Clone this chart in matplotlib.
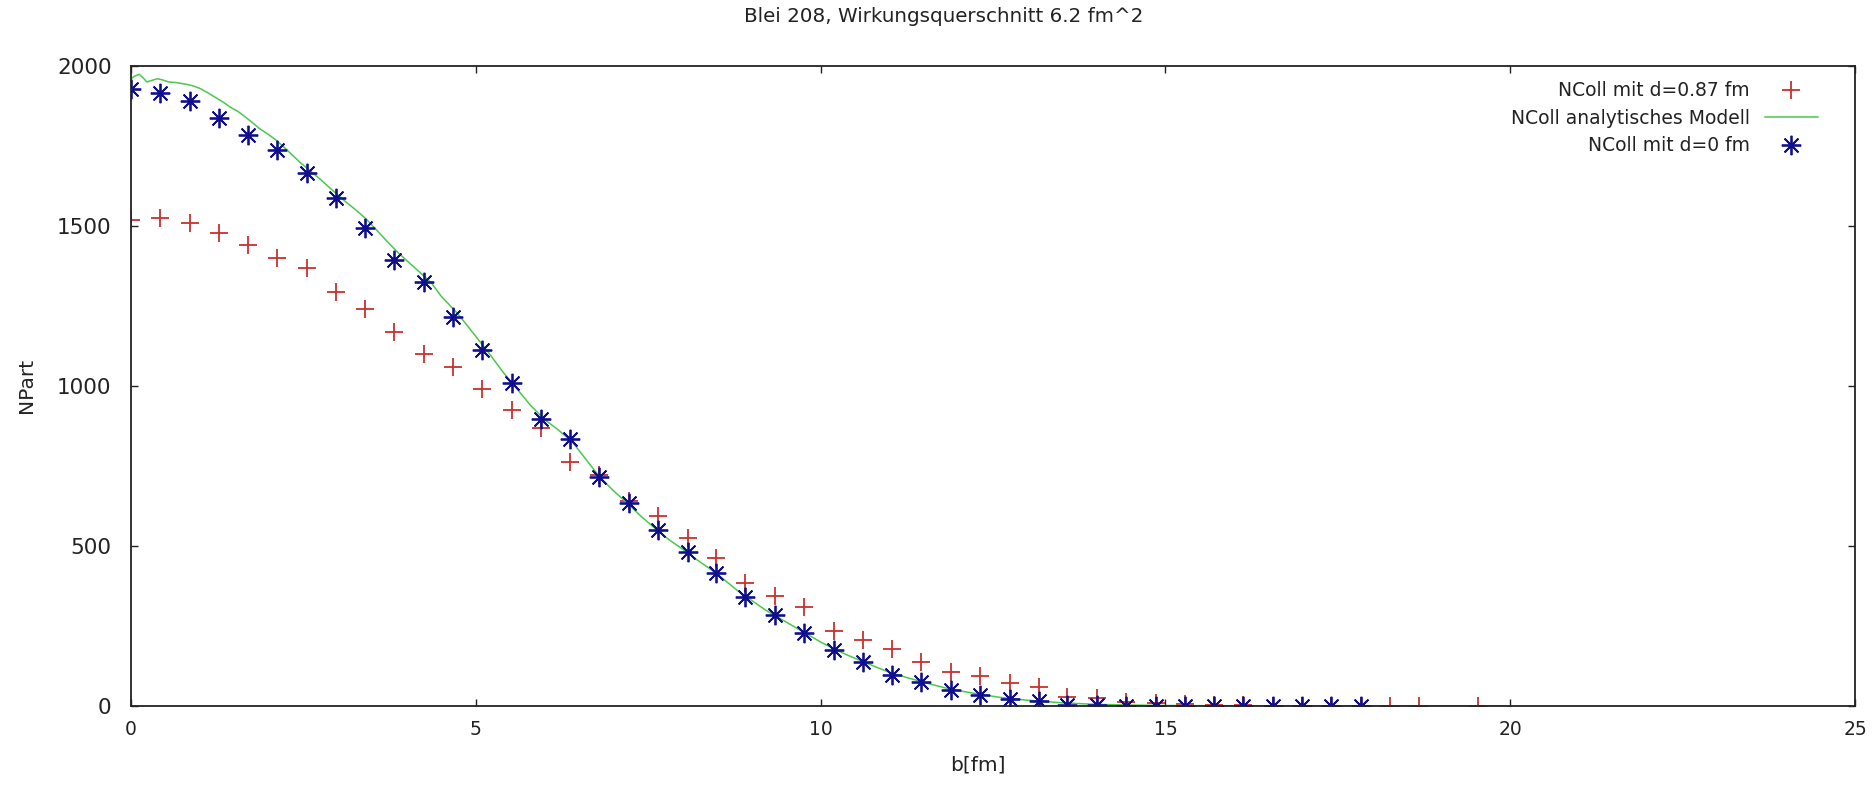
import matplotlib
matplotlib.use("Agg")
import matplotlib.pyplot as plt

# impact parameter grid of the simulation (fm)
b_sim = [0.00, 0.42, 0.85, 1.27, 1.70, 2.12, 2.55, 2.97, 3.40, 3.82,
         4.25, 4.67, 5.09, 5.52, 5.94, 6.37, 6.79, 7.22, 7.64, 8.07,
         8.49, 8.91, 9.34, 9.76, 10.19, 10.61, 11.04, 11.46, 11.89, 12.31,
         12.74, 13.16, 13.58, 14.01, 14.43, 14.86, 15.28, 15.71, 16.13, 16.56,
         16.98, 17.40, 17.83, 18.25, 18.68, 19.53]

# NColl mit d=0.87 fm
ncoll_d087 = [1519, 1524, 1510, 1477, 1441, 1399, 1368, 1293, 1240, 1168,
              1100, 1059, 991, 924, 868, 761, 722, 640, 594, 524,
              464, 385, 344, 308, 234, 206, 177, 138, 107, 94,
              71, 58, 29, 26, 14, 8, 5, 3, 2, 1,
              1, 0, 0, 0, 0, 0]

# NColl mit d=0 fm (only up to b=17.83)
ncoll_d0 = [1928, 1915, 1891, 1838, 1784, 1737, 1667, 1588, 1495, 1394,
            1326, 1215, 1112, 1010, 898, 833, 717, 633, 550, 482,
            417, 342, 284, 229, 175, 138, 97, 76, 50, 33,
            21, 15, 4, 2, 1, 1, 0, 0, 0, 0,
            0, 0, 0]

# analytisches Modell
b_model = [0.00, 0.05, 0.12, 0.18, 0.23, 0.30, 0.38, 0.45, 0.55, 0.66,
           0.80, 0.90, 1.00, 1.10, 1.20, 1.33, 1.45, 1.55, 1.62, 1.75,
           1.86, 2.00, 2.10, 2.25, 2.44, 2.60, 2.75, 2.92, 3.10, 3.25,
           3.40, 3.55, 3.70, 3.88, 4.05, 4.20, 4.36, 4.50, 4.70, 4.85,
           5.00, 5.20, 5.40, 5.60, 5.80, 6.00, 6.20, 6.40, 6.60, 6.80,
           7.00, 7.20, 7.40, 7.60, 7.80, 8.00, 8.20, 8.40, 8.60, 8.80,
           9.00, 9.20, 9.40, 9.60, 9.80, 10.00, 10.20, 10.40, 10.60, 10.80,
           11.00, 11.20, 11.40, 11.60, 11.80, 12.00, 12.30, 12.60, 13.00, 13.50,
           14.00, 14.50, 15.00, 16.00, 17.00, 20.00]
n_model = [1960, 1968, 1974, 1962, 1950, 1955, 1960, 1957, 1950, 1948,
           1943, 1938, 1930, 1918, 1905, 1888, 1870, 1858, 1847, 1825,
           1805, 1785, 1769, 1740, 1701, 1672, 1645, 1612, 1578, 1552,
           1524, 1490, 1455, 1415, 1382, 1353, 1321, 1280, 1235, 1196,
           1155, 1100, 1042, 990, 938, 895, 862, 825, 770, 715,
           672, 633, 592, 555, 520, 490, 458, 428, 395, 360,
           330, 300, 275, 250, 225, 200, 178, 158, 140, 122,
           105, 92, 80, 68, 57, 48, 37, 27, 18, 10,
           5, 3, 1.5, 0.5, 0, 0]

plt.rcParams['font.family'] = ['DejaVu Sans']

fig = plt.figure(figsize=(18.75, 7.98), dpi=100)
ax = fig.add_axes([131 / 1875, 1 - 706 / 798, 1724 / 1875, 640 / 798])

ax.plot(b_sim, ncoll_d087, linestyle='none', marker='+', markersize=13,
        markeredgewidth=1.3, color='#cc2f2f', label='NColl mit d=0.87 fm')
ax.plot(b_model, n_model, color='#4cc84c', linewidth=1.1,
        label='NColl analytisches Modell')
ax.plot(b_sim[:len(ncoll_d0)], ncoll_d0, linestyle='none', marker=(8, 2, 0),
        markersize=14, markeredgewidth=1.3, color='#10108f',
        label='NColl mit d=0 fm')

ax.set_xlim(0, 25)
ax.set_ylim(0, 2000)
ax.set_xticks([0, 5, 10, 15, 20, 25])
ax.set_yticks([0, 500, 1000, 1500, 2000])
ax.tick_params(direction='in', length=5, width=1, top=True, right=True,
               colors='#222222')
ax.tick_params(axis='x', pad=10, labelsize=13.5)
ax.tick_params(axis='y', pad=14, labelsize=15.5)
for s in ax.spines.values():
    s.set_linewidth(1.3)
    s.set_color('#222222')

fig.text(944 / 1875, 1 - 17 / 798, 'Blei 208, Wirkungsquerschnitt 6.2 fm^2',
         ha='center', va='center', fontsize=14.3, color='#222222')
fig.text(978 / 1875, 1 - 765 / 798, 'b[fm]', ha='center', va='center',
         fontsize=14.5, color='#222222')
fig.text(26 / 1875, 1 - 385 / 798, 'NPart', ha='center', va='center',
         rotation=90, fontsize=14.5, color='#222222')

leg = ax.legend(loc='upper right', bbox_to_anchor=(1 - 30 / 1724, 1 - 8 / 640),
                markerfirst=False, frameon=False, fontsize=13.5,
                handlelength=2.8, handletextpad=0.8, labelspacing=0.45,
                borderaxespad=0)
for t in leg.get_texts():
    t.set_color('#222222')

fig.savefig('out.png', dpi=100)
